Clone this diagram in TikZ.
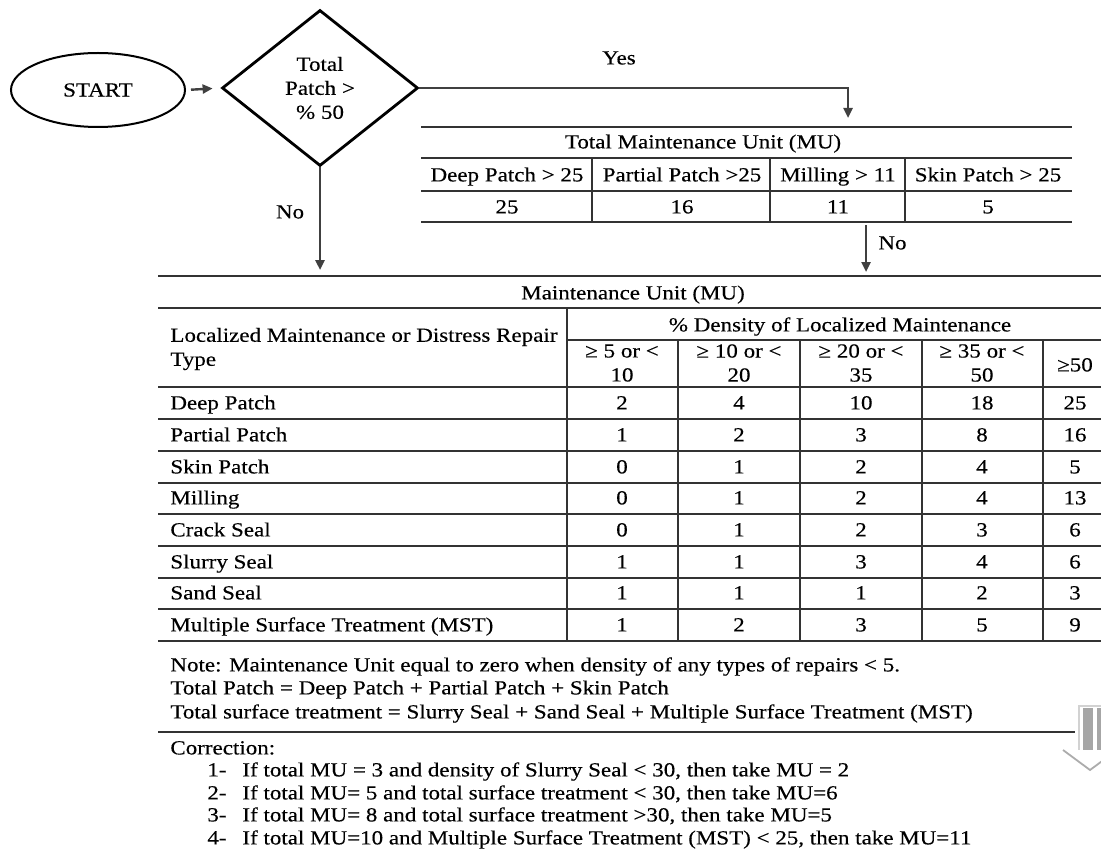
\documentclass[tikz,border=0pt]{standalone}
\usepackage{fontspec}
\setmainfont{Liberation Serif}[FakeStretch=1.15, FakeBold=0.3]
\usepackage{tikz}
\usetikzlibrary{shapes.geometric, arrows.meta, calc}

\tikzset{
  flowline/.style={line width=1.2pt, draw=black!75, -{Triangle[length=5pt, width=4.5pt]}},
  startnode/.style={ellipse, draw, line width=1pt, minimum width=87pt, minimum height=37pt, inner sep=0pt},
  decision/.style={diamond, draw, line width=1.4pt, minimum width=98pt, minimum height=78pt, inner sep=0pt, align=center},
  rule/.style={line width=0.9pt, black!80},
  cell/.style={inner sep=0pt, anchor=base, yshift=-3.2pt},
  lefttxt/.style={inner sep=0pt, anchor=base west, yshift=-3.2pt},
  twoline/.style={inner sep=0pt, anchor=center}
}

\begin{document}
\begin{tikzpicture}[x=0.5pt, y=-0.5pt, font=\fontsize{10pt}{12pt}\selectfont]
  \clip (0,0) rectangle (1101,850);

  % Start and decision
  \node[startnode] (start) at (98,90) {START};
  \node[decision] (dec) at (320,88) {Total\\Patch >\\\% 50};
  \draw[flowline, shorten <=2.5pt, shorten >=4pt] (start.east) -- (dec.west);

  % Yes branch
  \node[cell] (yes) at (619,58) {Yes};
  \coordinate (yesend) at (848,118);
  \draw[flowline] (dec.east) -| (yesend);

  % Total maintenance unit table
  \foreach \y in {127,158,191,222} \draw[rule] (421,\y) -- (1072,\y);
  \foreach \x in {592,770,905} \draw[rule] (\x,158) -- (\x,222);
  \node[cell] (tmu) at (703,142) {Total Maintenance Unit (MU)};
  \foreach \x/\head/\val [count=\i] in {507/Deep Patch > 25/25, 682/Partial Patch >25/16,
      838/Milling > 11/11, 988/Skin Patch > 25/5} {
    \node[cell] (thead-\i) at (\x,175) {\head};
    \node[cell] (tval-\i) at (\x,207) {\val};
  }

  % No branches
  \coordinate (rnostart) at (866,225);
  \coordinate (rnoend) at (866,272);
  \draw[flowline] (rnostart) -- (rnoend);
  \node[lefttxt] (rno) at (878,243) {No};
  \coordinate (lnoend) at (320,270);
  \draw[flowline] (dec.south) -- (lnoend);
  \node[cell] (lno) at (290,212) {No};

  % Maintenance unit table
  \foreach \y in {276,308,387,419,451,483,514,546,578,609,641} \draw[rule] (158,\y) -- (1101,\y);
  \draw[rule] (567,340) -- (1101,340);
  \draw[rule] (567,308) -- (567,641);
  \foreach \x in {678,800,922,1043} \draw[rule] (\x,340) -- (\x,641);
  \node[cell] (mu) at (633,293) {Maintenance Unit (MU)};
  \node[twoline, anchor=west, align=left] (reptype) at (170,349) {Localized Maintenance or Distress Repair\\Type};
  \node[cell] (dens) at (840,325) {\% Density of Localized Maintenance};
  \foreach \x/\lo/\hi [count=\i] in {622/5/10, 739/10/20, 861/20/35, 982/35/50}
    \node[twoline, align=center] (rng-\i) at (\x,363) {≥ \lo\ or <\\\hi};
  \node[cell] (rng-5) at (1075,365) {≥50};
  \foreach \y/\name/\a/\b/\c/\d/\e [count=\i] in {
      403/Deep Patch/2/4/10/18/25, 435/Partial Patch/1/2/3/8/16,
      467/Skin Patch/0/1/2/4/5, 498/Milling/0/1/2/4/13,
      530/Crack Seal/0/1/2/3/6, 562/Slurry Seal/1/1/3/4/6,
      593/Sand Seal/1/1/1/2/3, 625/Multiple Surface Treatment (MST)/1/2/3/5/9} {
    \node[lefttxt] (rep-\i) at (170,\y) {\name};
    \node[cell] (v-\i-1) at (622,\y) {\a};
    \node[cell] (v-\i-2) at (739,\y) {\b};
    \node[cell] (v-\i-3) at (861,\y) {\c};
    \node[cell] (v-\i-4) at (982,\y) {\d};
    \node[cell] (v-\i-5) at (1075,\y) {\e};
  }

  % Notes
  \node[lefttxt] (note-1) at (170,665) {Note: Maintenance Unit equal to zero when density of any types of repairs < 5.};
  \node[lefttxt] (note-2) at (170,688) {Total Patch = Deep Patch + Partial Patch + Skin Patch};
  \node[lefttxt] (note-3) at (170,712) {Total surface treatment = Slurry Seal + Sand Seal + Multiple Surface Treatment (MST)};
  \draw[line width=1.1pt, black!80] (158,732) -- (1075,732);

  % Correction list
  \node[lefttxt] (corr) at (170,748) {Correction:};
  \foreach \y/\txt [count=\i] in {
      770/If total MU = 3 and density of Slurry Seal < 30{,} then take MU = 2,
      793/If total MU= 5 and total surface treatment < 30{,} then take MU=6,
      815/If total MU= 8 and total surface treatment >30{,} then take MU=5,
      838/If total MU=10 and Multiple Surface Treatment (MST) < 25{,} then take MU=11} {
    \node[lefttxt] (num-\i) at (207,\y) {\i-};
    \node[lefttxt] (item-\i) at (242,\y) {\txt};
  }

  % Down block arrow at the right edge
  \draw[gray!35, line width=0.8pt] (1079,706) rectangle (1106,752);
  \fill[gray!70] (1083,708) rectangle (1093,752);
  \fill[gray!70] (1097,708) rectangle (1106,752);
  \draw[gray!65, line width=0.9pt, fill=white] (1063,750) -- (1090,770) -- (1117,750);
\end{tikzpicture}
\end{document}
